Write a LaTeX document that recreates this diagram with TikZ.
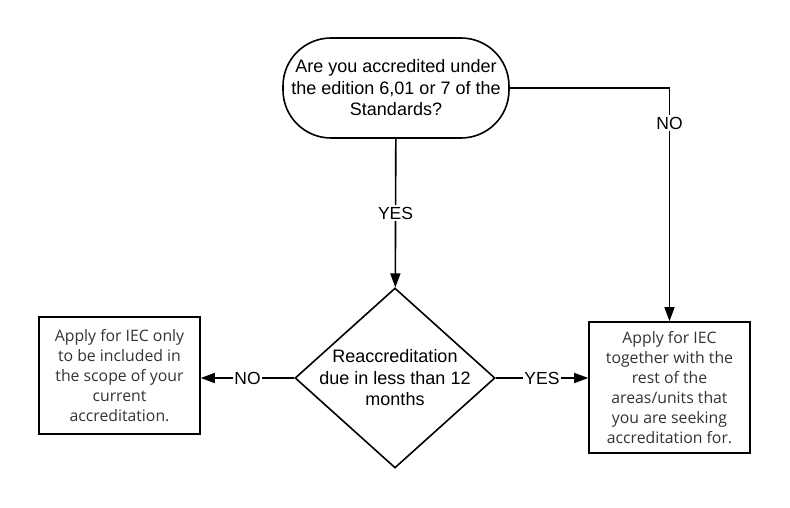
\documentclass[tikz,border=0pt]{standalone}
\usepackage{fontspec}
\setmainfont{Liberation Sans}
\newfontfamily\boxfont{Open Sans}
\usetikzlibrary{shapes.geometric,arrows.meta}
\begin{document}
\begin{tikzpicture}[x=1pt,y=-1pt,line width=1.6pt,
  startbox/.style={draw,rounded corners=48pt,minimum width=226pt,minimum height=100pt,
    inner sep=0pt,align=center,font=\fontsize{18}{21.5}\selectfont},
  decision/.style={draw,diamond,minimum width=200pt,minimum height=180pt,inner sep=0pt,
    label={[align=center,font=\fontsize{18}{21.5}\selectfont]center:#1}},
  actionbox/.style={draw,minimum width=161pt,inner sep=0pt,align=center,text=black!80,
    font=\boxfont\fontsize{15.8}{20}\selectfont},
  answer/.style={fill=white,inner sep=1.5pt,font=\fontsize{17.5}{19}\selectfont},
  flow/.style={-{Triangle[length=14pt,width=10pt]}}]
\useasboundingbox (0,0) rectangle (790,508);
% drawing nodes
\node[startbox] (accredited) at (396,88) {Are you accredited under\\the edition 6,01 or 7 of the\\Standards?};
\node[decision={Reaccreditation\\due in less than 12\\months}] (due) at (395,378) {};
\node[actionbox,minimum height=117pt] (scope) at (119.5,375.5) {Apply for IEC only\\to be included in\\the scope of your\\current\\accreditation.};
\node[actionbox,minimum height=131pt] (together) at (669.5,387.5) {Apply for IEC\\together with the\\rest of the\\areas/units that\\you are seeking\\accreditation for.};
% drawing edges
\draw[flow] (accredited) -- node[answer] {YES} (due);
\draw[flow] (accredited.east) -| node[answer,pos=0.575] {NO} (together.north);
\draw[flow] (due.west) -- node[answer] {NO} (due.west -| scope.east);
\draw[flow] (due.east) -- node[answer] {YES} (due.east -| together.west);
\end{tikzpicture}
\end{document}
